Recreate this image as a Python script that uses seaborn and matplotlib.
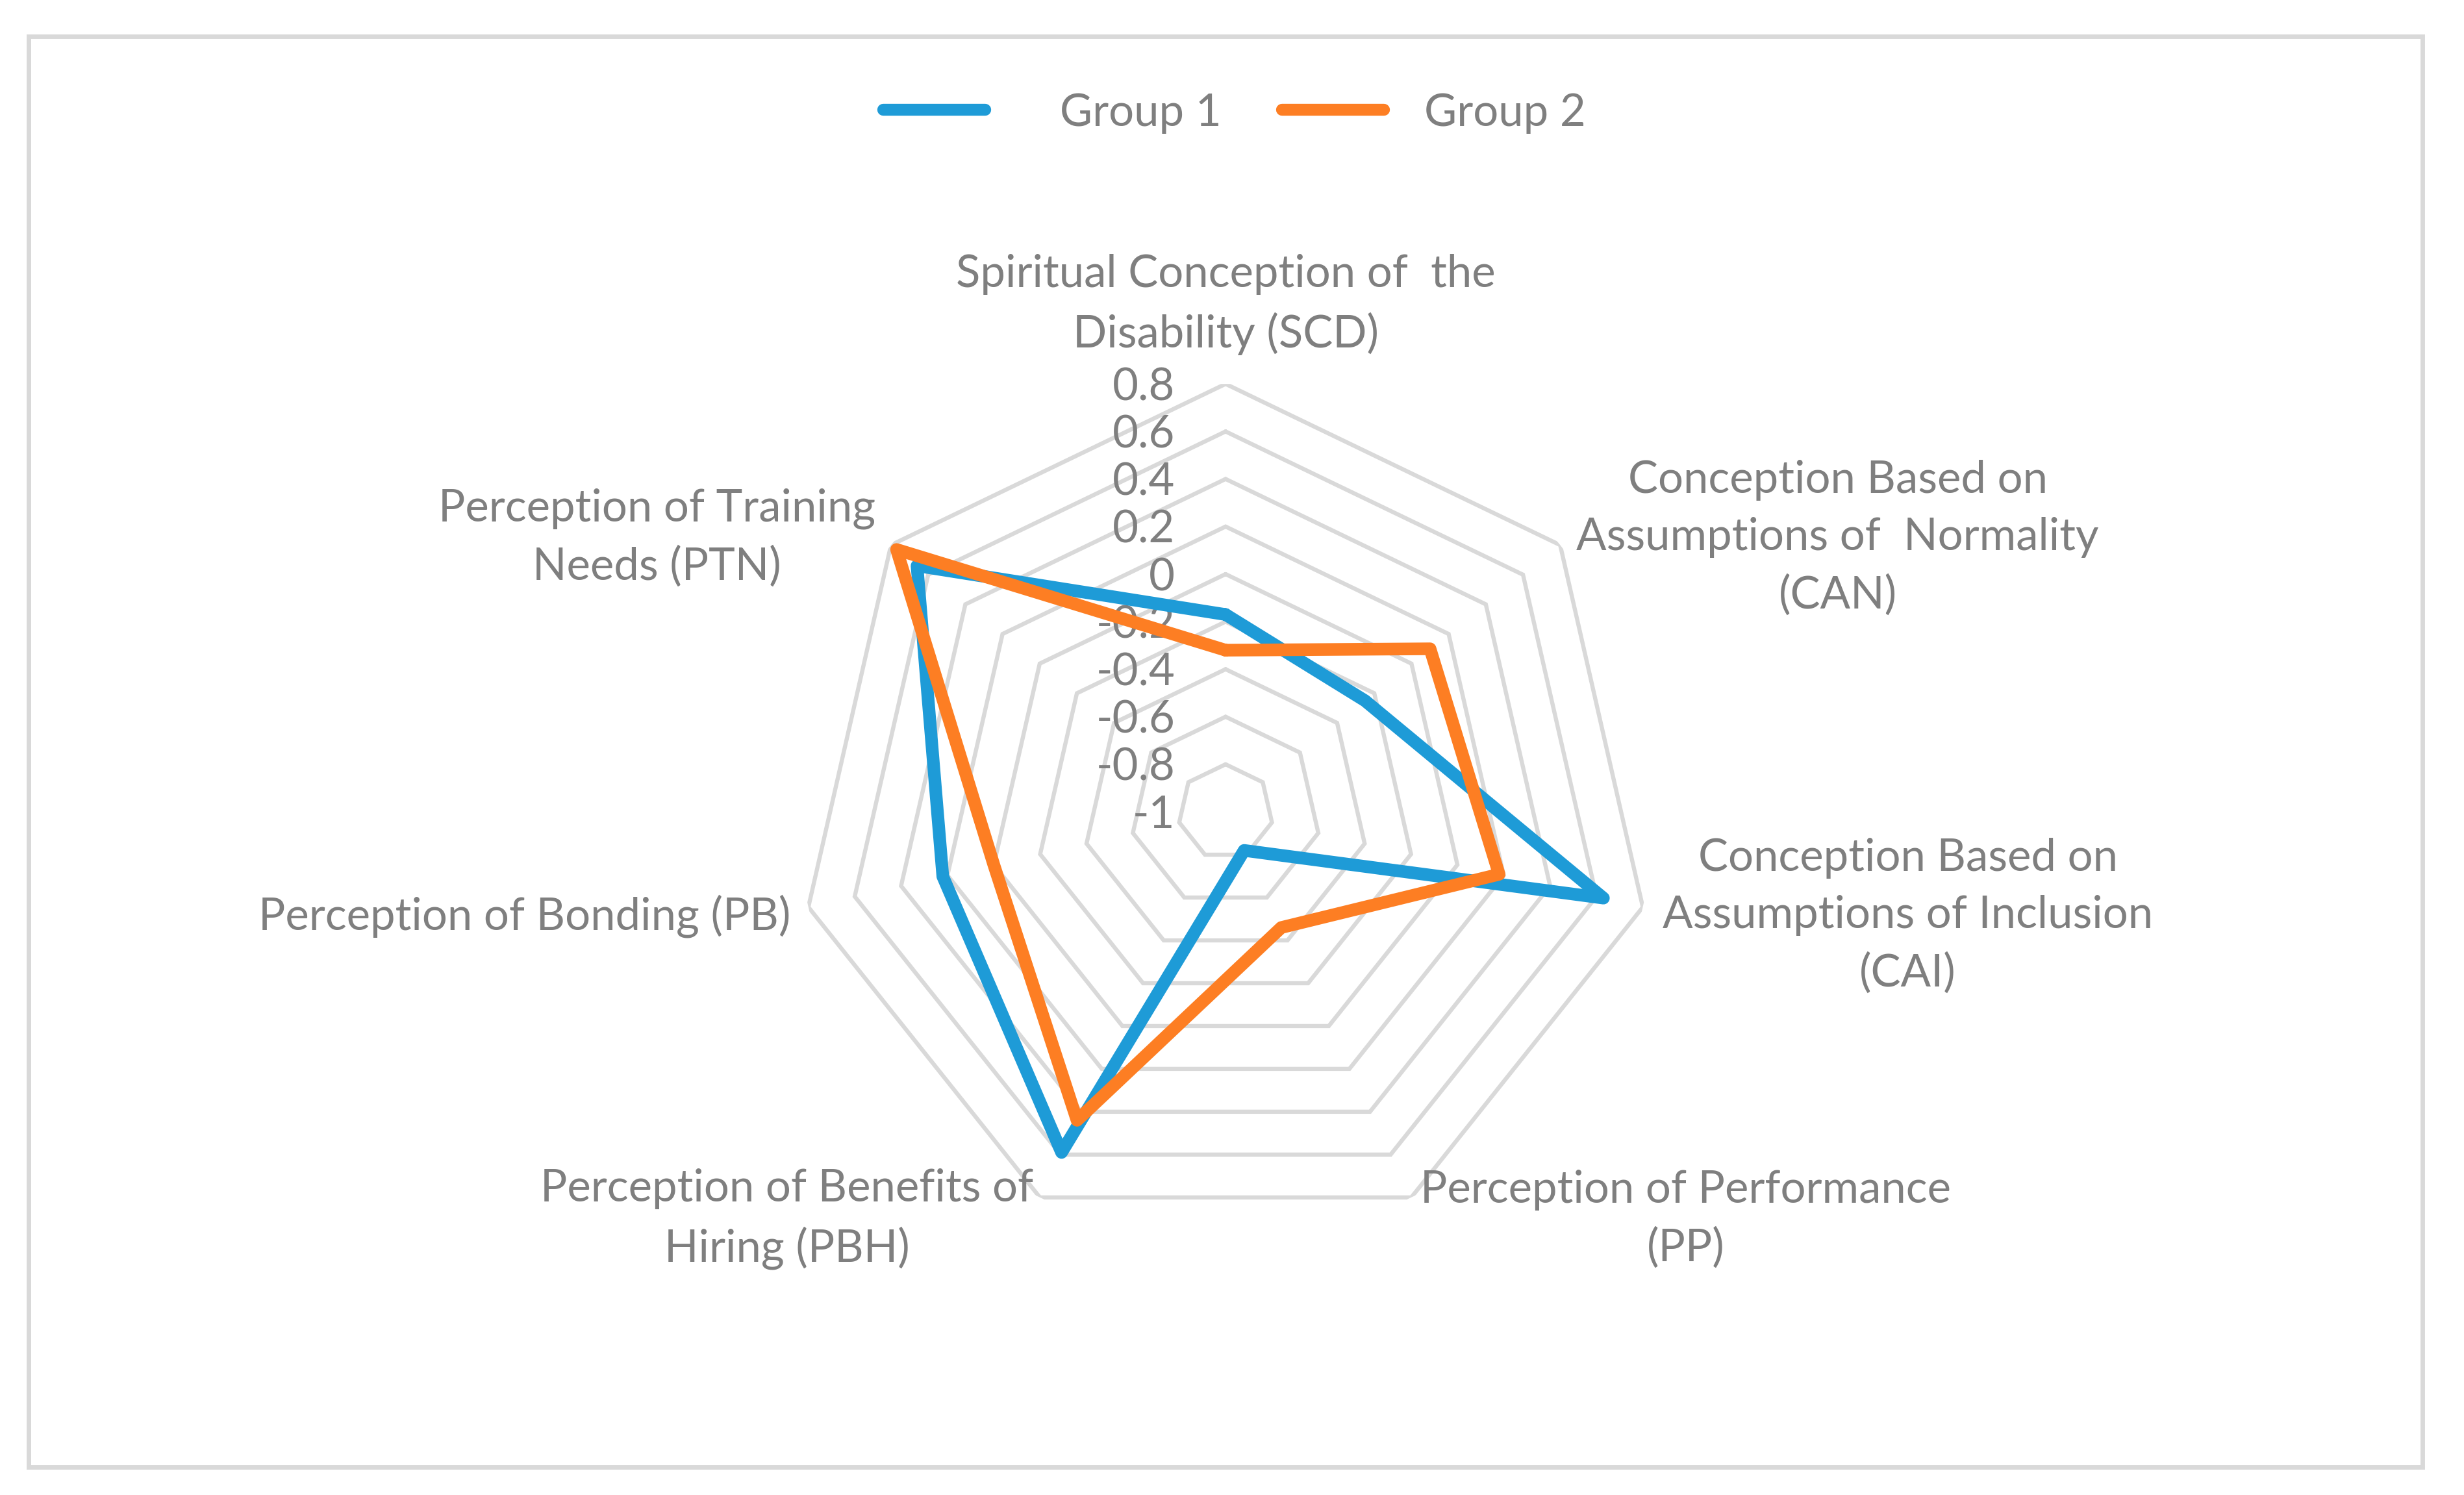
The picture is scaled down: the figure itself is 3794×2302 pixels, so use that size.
import numpy as np
import pandas as pd
import matplotlib
matplotlib.use("Agg")
import matplotlib.pyplot as plt
import seaborn as sns
from matplotlib.lines import Line2D
from matplotlib.patches import Rectangle

# ---------------- data ----------------
categories = [
    "Spiritual Conception of  the\nDisability (SCD)",
    "Conception Based on\nAssumptions of  Normality\n(CAN)",
    "Conception Based on\nAssumptions of Inclusion\n(CAI)",
    "Perception of Performance\n(PP)",
    "Perception of Benefits of\nHiring (PBH)",
    "Perception of Bonding (PB)",
    "Perception of Training\nNeeds (PTN)",
]
group1 = [-0.17, -0.25, 0.63, -0.82, 0.59, 0.22, 0.66]
group2 = [-0.32, 0.10, 0.18, -0.46, 0.44, 0.00, 0.77]
series_names = ["Group 1", "Group 2"]
legend_labels = ["   Group 1", "Group 2"]
r_ticks = [0.8, 0.6, 0.4, 0.2, 0.0, -0.2, -0.4, -0.6, -0.8, -1.0]
r_tick_labels = ["0.8", "0.6", "0.4", "0.2", "0", "-0.2", "-0.4", "-0.6", "-0.8", "-1"]
r_min, r_max = -1.0, 0.8

colors = ["#1E9BD7", "#FD7E23"]
text_color = "#7F7F7F"
grid_color = "#D9D9D9"
FS = 24.8

# label placement (offset in points, ha)
label_style = [
    ((0, 44), "center"),
    ((9, 4), "left"),
    ((11, -5), "left"),
    ((5, -12), "left"),
    ((-3.6, -12), "right"),
    ((-10, -5), "right"),
    ((-8.6, 4), "right"),
]

sns.set_theme(style="white")
plt.rcParams["font.family"] = ["Lato", "DejaVu Sans"]

fig = plt.figure(figsize=(3794 / 200, 2302 / 200), dpi=200)
fig.patch.set_facecolor("white")

# outer chart border
fig.patches.append(Rectangle((0.0116, 0.0187), 0.9831 - 0.0116, 0.9757 - 0.0187,
                             transform=fig.transFigure, fill=False,
                             edgecolor=grid_color, linewidth=2.5))

ax = fig.add_axes([0.3237, 0.1707, 0.3474, 0.5725], projection="polar")
ax.set_theta_offset(np.pi / 2)
ax.set_theta_direction(-1)
ax.set_facecolor("none")

n = len(categories)
angles = [i * 2 * np.pi / n for i in range(n)]
closed_angles = angles + [2 * np.pi]

# heptagon grid rings
for r in r_ticks:
    if r <= r_min:
        continue
    ax.plot(closed_angles, [r] * (n + 1), color=grid_color, lw=2.3, zorder=1,
            solid_joinstyle="miter")

# radial tick labels
for r, lab in zip(r_ticks, r_tick_labels):
    ax.annotate(lab, xy=(0, r), xytext=(-28, -2), textcoords="offset points",
                ha="right", va="center", fontsize=FS, color=text_color, zorder=2,
                annotation_clip=False)

# data lines via seaborn
rows = []
for name, vals in zip(series_names, [group1, group2]):
    for th, v in zip(closed_angles, vals + [vals[0]]):
        rows.append({"theta": th, "value": v, "group": name})
df = pd.DataFrame(rows)
sns.lineplot(data=df, x="theta", y="value", hue="group", palette=colors,
             sort=False, estimator=None, lw=7, legend=False, ax=ax,
             solid_joinstyle="round", zorder=3)

# category labels
for th, lab, (off, ha) in zip(angles, categories, label_style):
    ax.annotate(lab, xy=(th, r_max), xytext=off, textcoords="offset points",
                ha=ha, va="center", multialignment="center", fontsize=FS,
                color=text_color, linespacing=1.49, annotation_clip=False)

ax.set_ylim(r_min, r_max)
ax.set_xticks([])
ax.set_yticks([])
ax.grid(False)
ax.spines["polar"].set_visible(False)
ax.set_xlabel("")
ax.set_ylabel("")

handles = [Line2D([0], [0], color=c, lw=6.6, solid_capstyle="round") for c in colors]
leg = fig.legend(handles, legend_labels, loc="center", bbox_to_anchor=(0.501, 0.9244),
                 ncol=2, frameon=False, fontsize=FS, handlelength=2.28,
                 handletextpad=0.9, columnspacing=1.35)
for t in leg.get_texts():
    t.set_color(text_color)

fig.savefig("out.png", dpi=200, facecolor="white")
